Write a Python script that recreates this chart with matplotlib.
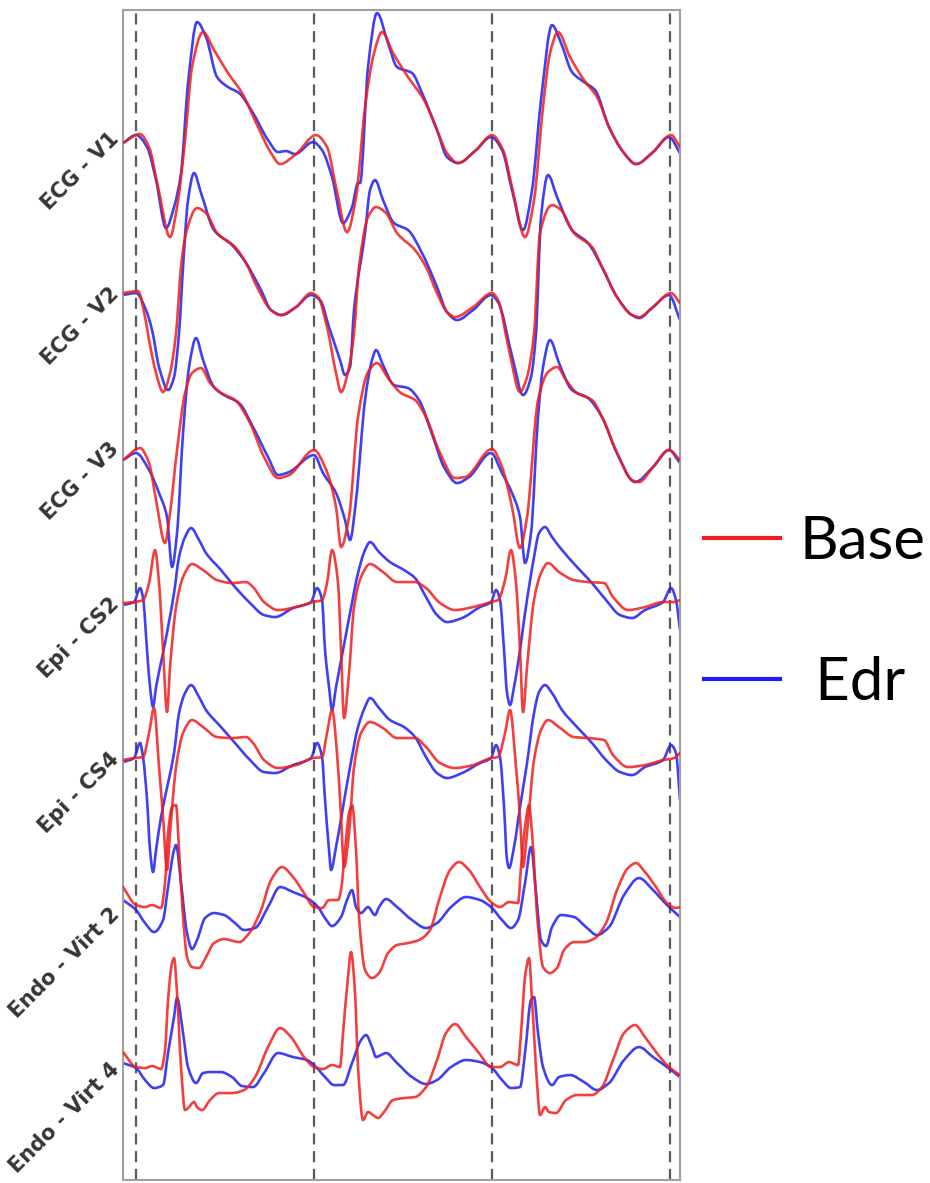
import numpy as np
import matplotlib.pyplot as plt
from matplotlib.path import Path
from matplotlib.patches import PathPatch
from matplotlib.lines import Line2D

FS = 250.0       # samples per second
GAIN = 100.0     # counts per mV
SPACING = 1.55   # mV between stacked leads

leads = ['ECG - V1', 'ECG - V2', 'ECG - V3', 'Epi - CS2', 'Epi - CS4',
         'Endo - Virt 2', 'Endo - Virt 4']

# pacing stimuli (sample index)
stim = [0, 178, 356, 534]

# (sample, counts) pairs for each lead, Base model then Edr model

v1_base = [(-13, -3), (4, 6), (13, -7), (22, -47), (34, -97), (41, -67), (49, 0), (56, 73), (67, 108),
           (78, 90), (92, 67), (106, 47), (122, 13), (135, -13), (144, -24), (160, -14), (180, 5),
           (191, -7), (200, -47), (211, -92), (220, -57), (229, 33), (238, 87), (246, 108), (257, 87),
           (272, 63), (288, 40), (301, 10), (311, -13), (322, -23), (340, -10), (356, 5), (367, -10),
           (376, -47), (389, -97), (398, -60), (407, 33), (414, 87), (422, 108), (434, 83), (448, 60),
           (461, 43), (473, 13), (488, -13), (500, -24), (517, -12), (535, 5), (544, -7)]
v1_edr = [(-13, -3), (0, 5), (11, -7), (20, -40), (30, -88), (38, -67), (45, -33), (52, 57), (61, 118),
          (70, 103), (81, 63), (92, 53), (103, 47), (117, 27), (132, 0), (142, -12), (150, -11),
          (159, -14), (177, -2), (186, -10), (196, -37), (207, -83), (216, -67), (222, -43), (224, -43),
          (232, 73), (241, 127), (252, 97), (261, 73), (276, 67), (286, 47), (301, 10), (311, -17),
          (322, -23), (340, -10), (355, 3), (366, -10), (376, -50), (387, -90), (396, -50), (405, 40),
          (416, 115), (425, 97), (436, 68), (448, 58), (459, 50), (473, 13), (488, -13), (500, -24),
          (517, -12), (533, 3), (544, -13)]

v2_base = [(-13, 2), (2, 4), (9, -22), (13, -45), (20, -78), (27, -97), (34, -78), (40, -38), (45, 28),
           (50, 62), (61, 87), (70, 82), (81, 62), (99, 48), (110, 32), (121, 8), (135, -15), (144, -20),
           (160, -12), (175, 2), (182, -2), (191, -32), (200, -78), (205, -97), (213, -72), (218, -38),
           (223, 28), (232, 78), (240, 88), (250, 82), (261, 62), (279, 45), (290, 28), (301, 2),
           (311, -17), (319, -22), (337, -12), (356, 2), (362, -5), (373, -55), (384, -97), (391, -82),
           (398, -38), (404, 62), (416, 90), (425, 85), (438, 62), (456, 48), (466, 28), (481, -2),
           (496, -20), (503, -22), (517, -12), (535, 2), (544, -8)]
v2_edr = [(-13, 0), (0, 2), (10, -15), (16, -35), (23, -72), (32, -95), (38, -82), (43, -38), (47, 28),
          (52, 95), (58, 122), (65, 102), (78, 65), (96, 50), (110, 32), (125, 5), (135, -15), (146, -20),
          (160, -12), (175, 0), (184, -5), (193, -32), (204, -65), (209, -80), (214, -72), (218, -15),
          (229, 62), (234, 105), (239, 115), (247, 95), (258, 72), (272, 65), (286, 42), (301, 8),
          (311, -17), (321, -25), (337, -15), (355, 0), (362, -7), (377, -65), (387, -100), (395, -82),
          (400, -38), (405, 78), (412, 120), (421, 98), (436, 65), (452, 52), (466, 28), (481, -2),
          (496, -20), (503, -23), (517, -12), (533, 0), (544, -25)]

v3_base = [(-13, -10), (4, 2), (13, -13), (20, -50), (29, -93), (34, -63), (41, 0), (49, 57), (56, 77),
           (65, 82), (74, 67), (85, 57), (99, 50), (114, 27), (128, -7), (142, -28), (153, -25), (178, 0),
           (189, -17), (200, -57), (205, -97), (213, -67), (222, 33), (232, 78), (241, 87), (252, 72),
           (265, 57), (279, 50), (290, 33), (304, -3), (319, -28), (329, -27), (356, 1), (366, -17),
           (376, -57), (384, -98), (391, -67), (402, 50), (412, 78), (421, 83), (430, 70), (441, 57),
           (456, 50), (466, 33), (481, -3), (496, -30), (503, -32), (517, -17), (533, 0), (544, -10)]
v3_edr = [(-13, -10), (0, -3), (13, -20), (23, -43), (31, -67), (36, -117), (41, -83), (47, 17), (53, 83),
          (60, 112), (67, 90), (78, 63), (88, 55), (103, 47), (117, 23), (132, -7), (142, -25), (153, -22),
          (178, -5), (187, -23), (200, -43), (209, -70), (214, -90), (220, -50), (229, 50), (236, 90),
          (240, 100), (247, 85), (258, 65), (272, 62), (283, 50), (297, 13), (308, -17), (321, -33),
          (333, -27), (355, -3), (366, -23), (376, -43), (384, -67), (389, -113), (395, -83), (402, 33),
          (407, 83), (414, 110), (423, 87), (436, 60), (452, 52), (466, 33), (481, -3), (499, -32),
          (517, -17), (533, 0), (544, -13)]

cs2_base = [(-13, 2), (-2, 3), (7, 5), (13, 22), (19, 55), (23, 22), (27, -45), (31, -107), (34, -62),
            (40, -2), (47, 28), (56, 41), (67, 35), (81, 25), (96, 22), (110, 23), (117, 18), (128, 3),
            (142, -5), (160, -2), (177, 3), (186, 5), (191, 22), (196, 55), (202, 22), (205, -45),
            (208, -113), (213, -68), (218, -2), (225, 28), (234, 41), (247, 33), (261, 23), (279, 23),
            (290, 17), (304, 2), (319, -5), (337, -2), (355, 3), (362, 5), (369, 25), (375, 55), (380, 22),
            (384, -45), (387, -107), (391, -62), (398, 5), (405, 32), (412, 42), (423, 33), (438, 25),
            (452, 23), (468, 22), (477, 8), (492, -5), (509, -2), (527, 3), (538, 3), (544, 5)]
cs2_edr = [(-13, 0), (-2, 3), (4, 17), (7, 7), (11, -45), (14, -82), (17, -102), (20, -82), (27, -48),
           (32, -22), (38, 12), (43, 48), (49, 68), (55, 77), (63, 65), (70, 52), (85, 35), (99, 18),
           (114, 2), (128, -10), (139, -12), (157, -3), (175, 3), (181, 17), (186, 5), (189, -45),
           (193, -82), (196, -105), (200, -82), (207, -45), (214, -8), (222, 32), (229, 55), (234, 63),
           (243, 53), (254, 43), (268, 35), (279, 27), (290, 8), (301, -10), (311, -17), (326, -13),
           (344, -2), (355, 3), (360, 15), (364, 5), (368, -45), (371, -88), (374, -100), (378, -82),
           (384, -45), (389, -8), (398, 48), (403, 72), (409, 78), (416, 68), (426, 55), (441, 38),
           (456, 22), (470, 5), (484, -10), (496, -13), (509, -5), (527, 3), (535, 17), (540, 5), (544, -25)]

cs4_base = [(-13, 0), (-2, 2), (7, 3), (13, 27), (18, 52), (23, -7), (27, -57), (31, -110), (34, -73),
            (40, -7), (47, 27), (56, 40), (67, 33), (81, 23), (96, 22), (110, 23), (117, 17), (128, 0),
            (142, -8), (160, -5), (177, 2), (186, 3), (191, 27), (196, 50), (202, -7), (205, -57),
            (208, -107), (213, -73), (218, -7), (225, 27), (234, 38), (247, 32), (261, 22), (279, 22),
            (290, 13), (304, -3), (319, -8), (337, -5), (355, 2), (362, 3), (369, 27), (374, 50), (380, -7),
            (384, -57), (387, -107), (391, -73), (398, 0), (405, 30), (412, 40), (423, 33), (438, 23),
            (452, 22), (468, 20), (477, 5), (492, -7), (509, -5), (527, 0), (538, 2), (544, 7)]
cs4_edr = [(-13, -2), (-2, 2), (4, 17), (7, 3), (11, -40), (14, -90), (17, -112), (20, -90), (25, -57),
           (32, -23), (38, 7), (43, 47), (49, 67), (55, 75), (63, 63), (70, 50), (85, 33), (99, 17),
           (114, 0), (128, -12), (139, -13), (157, -5), (175, 2), (181, 17), (186, 3), (189, -40),
           (193, -90), (195, -110), (200, -87), (207, -47), (214, -7), (222, 33), (229, 53), (234, 62),
           (243, 52), (254, 40), (268, 33), (279, 23), (290, 3), (301, -13), (311, -18), (326, -13),
           (344, -3), (355, 2), (360, 15), (364, 3), (368, -47), (371, -100), (373, -108), (378, -87),
           (384, -47), (391, -3), (398, 47), (403, 68), (409, 75), (416, 67), (426, 50), (441, 33),
           (456, 17), (470, 0), (484, -12), (496, -15), (509, -7), (527, 0), (535, 15), (540, 7), (544, -40)]

virt2_base = [(-13, 28), (0, 10), (9, 8), (16, 10), (25, 7), (29, 32), (32, 82), (36, 108), (40, 110),
              (43, 65), (47, -2), (51, -42), (56, -52), (63, -53), (70, -42), (78, -28), (88, -24),
              (103, -27), (114, -17), (125, 5), (135, 35), (146, 48), (157, 38), (168, 22), (178, 8),
              (186, 7), (193, 15), (202, 15), (205, 25), (209, 65), (213, 102), (216, 110), (220, 65),
              (223, -2), (229, -55), (236, -63), (243, -58), (252, -38), (261, -30), (272, -28), (283, -25),
              (294, -15), (303, 15), (314, 45), (323, 53), (333, 45), (344, 28), (355, 13), (364, 8),
              (373, 13), (382, 12), (385, 48), (389, 88), (393, 110), (396, 82), (402, -12), (407, -52),
              (414, -58), (421, -53), (428, -35), (438, -27), (448, -27), (459, -23), (470, -8), (481, 25),
              (492, 47), (500, 52), (509, 43), (520, 28), (531, 12), (540, 7), (544, 8)]
virt2_edr = [(-13, 15), (0, 5), (9, -8), (18, -17), (27, -5), (32, 28), (38, 65), (40, 70), (45, 32),
             (51, -18), (56, -34), (61, -25), (69, -3), (78, 2), (88, 0), (99, -8), (108, -15), (119, -13),
             (132, 8), (144, 28), (157, 23), (171, 17), (182, 8), (189, -3), (196, -11), (205, -2),
             (211, 15), (216, 25), (220, 8), (225, 2), (232, 8), (239, 0), (243, 8), (250, 16), (261, 8),
             (276, -5), (290, -13), (301, -8), (315, 8), (330, 18), (344, 15), (355, 8), (366, -5),
             (375, -13), (382, -5), (389, 32), (395, 68), (400, 22), (405, -25), (410, -31), (416, -12),
             (425, 0), (438, -2), (450, -12), (461, -20), (473, -12), (488, 20), (503, 37), (517, 25),
             (531, 10), (544, -2)]

virt4_base = [(-13, 18), (0, 3), (9, 2), (16, 4), (25, 1), (29, 20), (32, 70), (36, 107), (38, 112),
              (41, 77), (45, 3), (49, -40), (52, -38), (58, -32), (61, -37), (66, -40), (74, -30),
              (83, -23), (96, -23), (108, -20), (119, -7), (132, 23), (144, 42), (155, 33), (168, 13),
              (178, 3), (187, 1), (196, 5), (204, 3), (207, 37), (212, 93), (215, 118), (219, 77), (222, 3),
              (227, -50), (232, -42), (237, -45), (242, -48), (248, -42), (257, -30), (268, -28), (279, -27),
              (290, -17), (301, 10), (310, 37), (319, 46), (330, 33), (343, 17), (355, 3), (364, 3), (373, 8),
              (382, 5), (385, 37), (389, 93), (393, 112), (396, 70), (401, -13), (404, -45), (409, -37),
              (413, -42), (420, -43), (430, -30), (441, -25), (456, -25), (466, -17), (477, 10), (488, 37),
              (499, 45), (509, 33), (520, 18), (533, 3), (544, -5)]
virt4_edr = [(-13, 7), (0, 2), (9, -10), (18, -18), (27, -15), (32, 17), (38, 53), (41, 72), (47, 37),
             (52, 3), (60, -13), (67, -3), (74, -2), (85, -2), (96, -7), (106, -16), (117, -17), (128, -3),
             (142, 17), (157, 13), (171, 10), (180, 3), (189, -7), (198, -15), (207, -15), (216, 7),
             (225, 30), (230, 35), (236, 23), (240, 13), (245, 15), (250, 17), (261, 7), (276, -7),
             (290, -14), (301, -10), (315, 3), (330, 10), (344, 8), (355, 3), (366, -10), (375, -18),
             (384, -17), (389, 17), (395, 70), (398, 73), (402, 37), (407, 3), (416, -15), (423, -7),
             (434, -5), (448, -12), (461, -20), (473, -13), (488, 10), (503, 23), (517, 13), (531, 3),
             (544, -7)]

base_traces = [v1_base, v2_base, v3_base, cs2_base, cs4_base, virt2_base, virt4_base]
edr_traces = [v1_edr, v2_edr, v3_edr, cs2_edr, cs4_edr, virt2_edr, virt4_edr]

RED = '#f01e1e'
BLUE = '#1e1ef0'


def smooth_path(x, y):
    # monotone cubic through every sample, written as bezier segments
    h = np.diff(x)
    sec = np.diff(y) / h
    d = np.zeros_like(y)
    d[0], d[-1] = sec[0], sec[-1]
    for i in range(1, len(x) - 1):
        if sec[i - 1] * sec[i] > 0:
            w1 = 2 * h[i] + h[i - 1]
            w2 = h[i] + 2 * h[i - 1]
            d[i] = (w1 + w2) / (w1 / sec[i - 1] + w2 / sec[i])
    verts = [(x[0], y[0])]
    codes = [Path.MOVETO]
    for i in range(len(x) - 1):
        verts += [(x[i] + h[i] / 3, y[i] + d[i] * h[i] / 3),
                  (x[i + 1] - h[i] / 3, y[i + 1] - d[i + 1] * h[i] / 3),
                  (x[i + 1], y[i + 1])]
        codes += [Path.CURVE4] * 3
    return Path(verts, codes)


def draw_trace(ax, pts, off, color, z):
    p = np.array(pts, dtype=float)
    path = smooth_path(p[:, 0] / FS, p[:, 1] / GAIN + off)
    ax.add_patch(PathPatch(path, facecolor='none', edgecolor=color, lw=1.9,
                           alpha=0.85, joinstyle='round', capstyle='round', zorder=z))


fig = plt.figure(figsize=(9.30, 11.83), dpi=100)
ax = fig.add_axes([0.1323, 0.0025, 0.5989, 0.9890])

for x in stim:
    ax.axvline(x / FS, color='#5a5a5a', lw=1.6, dashes=(5, 3), zorder=1)

for i, (base, edr) in enumerate(zip(base_traces, edr_traces)):
    off = -i * SPACING
    draw_trace(ax, edr, off, BLUE, 2)
    draw_trace(ax, base, off, RED, 3)
    ax.text(-20 / FS, off + 0.04, leads[i], rotation=45, rotation_mode='anchor',
            ha='right', va='center', fontsize=15, fontweight='bold', color='#353535',
            clip_on=False)

ax.set_xlim(-13 / FS, 544 / FS)
ax.set_ylim(-10.40, 1.30)
ax.set_xticks([])
ax.set_yticks([])
for sp in ax.spines.values():
    sp.set_color('#a0a0a0')
    sp.set_linewidth(1.5)

handles = [Line2D([], [], color=RED, lw=3), Line2D([], [], color=BLUE, lw=3)]
fig.legend(handles, ['Base', ' Edr'],
           loc='center left', bbox_to_anchor=(0.757, 0.4825),
           frameon=False, borderpad=0, borderaxespad=0,
           handlelength=1.27, handletextpad=0.33, labelspacing=1.45,
           prop={'family': 'Lato', 'size': 43})

fig.savefig('out.png', dpi=100)
